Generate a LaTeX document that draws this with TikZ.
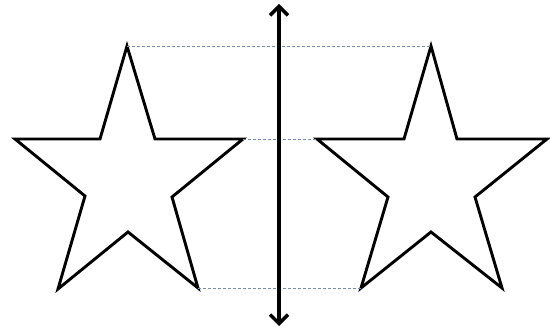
\documentclass[tikz,border=0pt]{standalone}
\usetikzlibrary{arrows.meta}
\begin{document}
\begin{tikzpicture}[x=1pt,y=-1pt,
  starline/.style={line width=2.9pt, line join=miter, draw=black},
  guide/.style={densely dashed, line width=0.7pt, draw={rgb,255:red,120;green,140;blue,175}},
  axis/.style={line width=3.4pt, {Straight Barb[length=9pt,width=18pt,line width=3.4pt]}-{Straight Barb[length=9pt,width=18pt,line width=3.4pt]}}]
\useasboundingbox (0,0) rectangle (550,334);
% left star
\coordinate (Ltop) at (127,46);
\coordinate (Lr) at (243,139);
\coordinate (Lbr) at (198,288);
\draw[starline] (Ltop) -- (155,139) -- (Lr) -- (172,197) -- (Lbr) -- (128,232) -- (58,289) -- (85,196) -- (15,139) -- (100,139) -- cycle;
% right star
\coordinate (Rtop) at (431,46);
\coordinate (Rl) at (317,139);
\coordinate (Rbl) at (361,288);
\draw[starline] (Rtop) -- (457,139) -- (547,139) -- (475,197) -- (502,288) -- (431,232) -- (Rbl) -- (388,197) -- (Rl) -- (404,139) -- cycle;
% guides
\draw[guide] (Ltop) -- (Rtop);
\draw[guide] (Lr) -- (Rl);
\draw[guide] (Lbr) -- (Rbl);
% axis
\coordinate (At) at (279,4);
\coordinate (Ab) at (279,326);
\draw[axis] (At) -- (Ab);
\end{tikzpicture}
\end{document}
